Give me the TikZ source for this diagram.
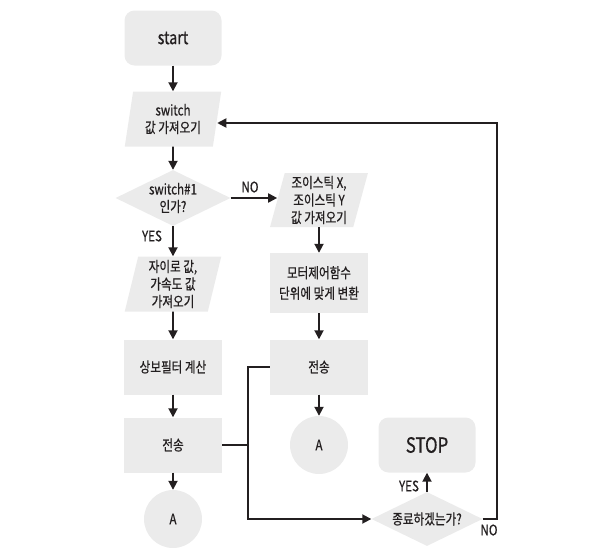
\documentclass[tikz,border=0pt]{standalone}
\usepackage{fontspec}
\usepackage{tikz}
\usetikzlibrary{shapes.geometric,arrows.meta}
\setmainfont{Noto Sans CJK KR}[FakeStretch=0.8, FakeBold=0.6]
\definecolor{boxfill}{HTML}{EBEBEB}
\definecolor{inkdark}{HTML}{231F20}

\begin{document}
\begin{tikzpicture}[x=1pt, y=-1pt,
  every node/.style={text=inkdark, font=\fontsize{14.5}{17.5}\selectfont, align=center},
  termbox/.style={fill=boxfill, rounded corners=10pt, minimum width=97pt, minimum height=55pt},
  procbox/.style={fill=boxfill, minimum width=98pt, minimum height=55pt},
  iobox/.style={trapezium, trapezium left angle=79, trapezium right angle=101, trapezium stretches=true,
    fill=boxfill, inner sep=0pt, minimum width=97pt, minimum height=55pt},
  decbox/.style={diamond, aspect=2, fill=boxfill, inner sep=0pt, minimum width=115pt, minimum height=56pt},
  conbox/.style={circle, fill=boxfill, minimum size=58pt},
  flow/.style={draw=inkdark, line width=1.8pt, -{Triangle[length=9pt,width=9pt]}},
  joinline/.style={draw=inkdark, line width=1.8pt},
  tag/.style={font=\fontsize{14.5}{16}\selectfont}
]
\useasboundingbox (0,0) rectangle (597,557);

% ---- Left column: switch read and filter ----
\node[termbox, font=\fontsize{18}{20}\selectfont] (start) at (173,38) {start};
\node[iobox] (getsw) at (173,119) {switch\\값 가져오기};
\node[decbox] (isone) at (173,198) {switch\#1\\인가?};
\node[iobox] (getgyro) at (173,284) {자이로 값,\\가속도 값\\가져오기};
\node[procbox] (filter) at (173,367) {상보필터 계산};
\node[procbox] (sendl) at (173,445) {전송};
\node[conbox] (conl) at (173,519) {A};

% ---- Right column: joystick and end check ----
\node[iobox, minimum width=98pt, minimum height=54pt, trapezium left angle=76, trapezium right angle=104] (getjoy) at (319,200) {조이스틱 X,\\조이스틱 Y\\값 가져오기};
\node[procbox, minimum height=60pt] (convert) at (319,283) {모터제어함수\\[3pt]단위에 맞게 변환};
\node[procbox] (sendr) at (319,367) {전송};
\node[conbox] (conr) at (319,445) {A};
\node[termbox, font=\fontsize{21}{24}\selectfont] (stop) at (427,445) {STOP};
\node[decbox, minimum width=111pt, minimum height=54pt] (isend) at (427,519) {종료하겠는가?};

% Flow arrows
\draw[flow] (start) -- (getsw);
\draw[flow] (getsw) -- (isone);
\draw[flow] (isone) -- (getgyro);
\draw[flow] (getgyro) -- (filter);
\draw[flow] (filter) -- (sendl);
\draw[flow] (sendl) -- (conl);
\draw[flow] (isone.east) -- (isone.east -| getjoy.west);
\draw[flow] (getjoy) -- (convert);
\draw[flow] (convert) -- (sendr);
\draw[flow] (sendr) -- (conr);
\draw[flow] (isend) -- (stop);

% Both sends lead to the end check
\coordinate (joinx) at (248,445);
\draw[joinline] (sendl.east) -- (joinx);
\draw[flow] (sendr.west) -| (joinx) |- (isend.west);

% Loop back to the switch read
\draw[flow] (isend.east) -- ++(14,0) |- ([yshift=-4pt]getsw.east);

% Labels
\node[tag] (yesone) at (152,236) {YES};
\node[tag] (noone) at (250,187) {NO};
\node[tag] (yesend) at (409,486) {YES};
\node[tag] (noend) at (489,530) {NO};

\end{tikzpicture}
\end{document}
